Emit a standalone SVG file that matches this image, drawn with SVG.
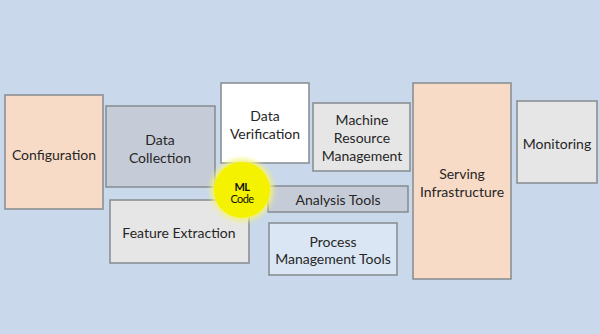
<svg xmlns="http://www.w3.org/2000/svg" width="600" height="334" viewBox="0 0 600 334">
<style>
.box{stroke:#858a90;stroke-width:1.5}
.t{font-family:Lato,"Liberation Sans",sans-serif;font-size:14px;fill:#262626;text-anchor:middle;dominant-baseline:central}
.peach{fill:#f8dbc6}
.gray{fill:#e6e6e6}
.slate{fill:#c6ccd7}
.sky{fill:#dae6f4}
.white{fill:#ffffff}
</style>
<defs>
<filter id="glow" x="-50%" y="-50%" width="200%" height="200%"><feGaussianBlur stdDeviation="2.5"/></filter>
</defs>
<rect width="600" height="334" fill="#c9d8ea"/>
<g id="configuration"><rect class="box peach" x="5" y="95" width="98" height="114"/><text class="t" x="54" y="154">Configuration</text></g>
<g id="data-collection"><rect class="box slate" x="106" y="106" width="109" height="81"/><text class="t" x="160" y="139">Data</text><text class="t" x="160" y="157">Collection</text></g>
<g id="feature-extraction"><rect class="box gray" x="110" y="200" width="139" height="63"/><text class="t" x="179" y="232">Feature Extraction</text></g>
<g id="data-verification"><rect class="box white" x="221" y="83" width="88" height="80"/><text class="t" x="265" y="115">Data</text><text class="t" x="265" y="133">Verification</text></g>
<g id="machine-resource-management"><rect class="box gray" x="313" y="103" width="97" height="68"/><text class="t" x="362" y="119">Machine</text><text class="t" x="362" y="137">Resource</text><text class="t" x="362" y="155">Management</text></g>
<g id="analysis-tools"><rect class="box slate" x="268" y="186" width="140" height="26"/><text class="t" x="338" y="199">Analysis Tools</text></g>
<g id="process-management-tools"><rect class="box sky" x="269" y="223" width="128" height="52"/><text class="t" x="333" y="241">Process</text><text class="t" x="333" y="258">Management Tools</text></g>
<g id="serving-infrastructure"><rect class="box peach" x="413" y="83" width="98" height="196"/><text class="t" x="462" y="173">Serving</text><text class="t" x="462" y="191">Infrastructure</text></g>
<g id="monitoring"><rect class="box gray" x="517" y="101" width="80" height="82"/><text class="t" x="557" y="143">Monitoring</text></g>
<g id="ml-code"><circle cx="242" cy="190" r="31" fill="#f4f27a" filter="url(#glow)"/><circle cx="242" cy="190" r="28" fill="#f5f200"/><text class="t" x="242" y="186" style="font-size:11px;font-weight:bold;letter-spacing:-0.6px;fill:#111">ML</text><text class="t" x="242" y="198" style="font-size:11px;letter-spacing:-0.6px;fill:#111">Code</text></g>
<g id="connectors"></g>
</svg>
